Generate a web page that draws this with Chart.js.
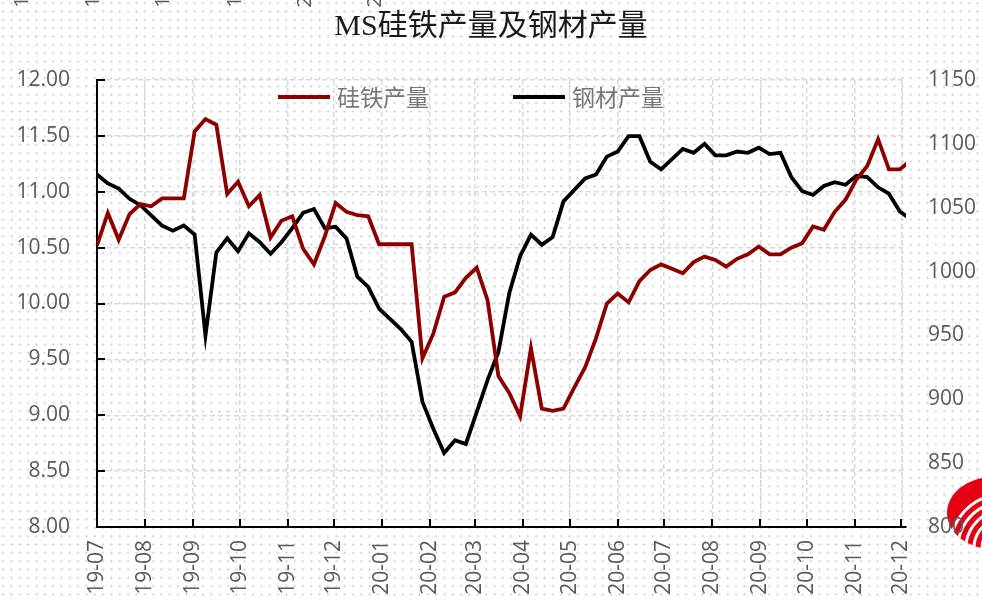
<!DOCTYPE html>
<html>
<head>
<meta charset="utf-8">
<script src="https://cdn.jsdelivr.net/npm/chart.js@4/dist/chart.umd.min.js"></script>
<style>
  body { margin: 0; background: #fff; }
  #wrap {
    width: 982px; height: 600px; background-color: #fff;
    background-image: radial-gradient(circle, #d2d2d2 0.9px, rgba(255,255,255,0) 1.1px);
    background-size: 8.33px 8.33px; background-position: -1px -1px;
  }
</style>
</head>
<body>
<div id="wrap"><canvas id="chart" width="982" height="600"></canvas></div>
<script>
// Month tick labels (yy-mm)
const monthLabels = ["19-07","19-08","19-09","19-10","19-11","19-12","20-01","20-02","20-03",
  "20-04","20-05","20-06","20-07","20-08","20-09","20-10","20-11","20-12"];

// Weekly series, first week starting 2019-07-01
const siliconOutput = [
  10.52,10.81,10.57,10.80,10.89,10.87,10.94,10.94,10.94,11.54,
  11.65,11.60,10.98,11.09,10.87,10.97,10.59,10.74,10.78,10.49,
  10.35,10.60,10.90,10.82,10.79,10.78,10.53,10.53,10.53,10.53,
  9.51,9.73,10.06,10.10,10.23,10.32,10.03,9.35,9.20,8.99,
  9.60,9.06,9.04,9.06,9.25,9.43,9.69,10.00,10.09,10.01,
  10.20,10.30,10.35,10.31,10.27,10.37,10.42,10.39,10.33,10.40,
  10.44,10.51,10.44,10.44,10.50,10.54,10.69,10.66,10.82,10.93,
  11.11,11.23,11.47,11.20,11.20,11.28];
const steelOutput = [
  1076,1069,1065,1057,1052,1044,1036,1032,1036,1029,
  950,1015,1026,1016,1030,1023,1014,1023,1034,1046,
  1049,1034,1035,1026,996,988,971,963,955,945,
  898,877,858,868,865,890,915,937,983,1012,
  1029,1021,1027,1055,1064,1073,1076,1090,1094,1106,
  1106,1086,1080,1088,1096,1093,1100,1091,1091,1094,
  1093,1097,1092,1093,1074,1063,1060,1067,1070,1068,
  1075,1074,1066,1061,1047,1041];

const seriesNames = ["硅铁产量", "钢材产量"];
const seriesColors = ["#8c0000", "#000000"];

// day offsets
const startDate = Date.UTC(2019, 6, 1);
const dayMs = 86400000;
function dayOf(label) {
  const [yy, mm] = label.split("-").map(Number);
  return (Date.UTC(2000 + yy, mm - 1, 1) - startDate) / dayMs;
}
const monthDays = monthLabels.map(dayOf);
const weekDays = siliconOutput.map((v, i) => i * 7);
const axisEndDay = monthDays[monthDays.length - 1] + 3;

const tickFont = { family: "'Open Sans', 'Noto Sans'", size: 21 };
const tickColor = "#595959";

// inward tick marks, legend inside plot, logo, ghost digits
const decorations = {
  id: "decorations",
  beforeDraw(chart) {
    const ctx = chart.ctx;
    ctx.save();
    ctx.beginPath();
    ctx.ellipse(993, 513, 46, 36, 0, 0, Math.PI * 2);
    ctx.clip();
    ctx.fillStyle = "#e60012";
    ctx.fillRect(940, 470, 50, 90);
    ctx.strokeStyle = "#fff";
    ctx.lineWidth = 3;
    [14, 22, 30, 38, 46, 54].forEach(r => {
      ctx.beginPath();
      ctx.arc(1004, 548, r, Math.PI * 0.95, Math.PI * 1.55);
      ctx.stroke();
    });
    ctx.restore();

    ctx.save();
    ctx.fillStyle = tickColor;
    ctx.font = "20px 'Open Sans'";
    ctx.textAlign = "center";
    ctx.textBaseline = "middle";
    [["1", 22], ["1", 93], ["1", 163], ["1", 235], ["2", 305], ["2", 375]].forEach(([t, x]) => {
      ctx.save();
      ctx.translate(x, 2);
      ctx.rotate(-Math.PI / 2);
      ctx.fillText(t, 0, 0);
      ctx.restore();
    });
    ctx.restore();
  },
  afterDraw(chart) {
    const ctx = chart.ctx;
    const xs = chart.scales.x, ys = chart.scales.y;
    const area = chart.chartArea;
    ctx.save();
    ctx.strokeStyle = "#000";
    ctx.lineWidth = 2;
    xs.ticks.forEach(t => {
      const px = Math.round(xs.getPixelForValue(t.value));
      ctx.beginPath();
      ctx.moveTo(px, area.bottom);
      ctx.lineTo(px, area.bottom - 8);
      ctx.stroke();
    });
    ys.ticks.forEach(t => {
      const py = Math.round(ys.getPixelForValue(t.value));
      ctx.beginPath();
      ctx.moveTo(area.left, py);
      ctx.lineTo(area.left + 8, py);
      ctx.stroke();
    });

    // legend
    const legendX = [278, 513];
    const legendY = area.top + 17;
    ctx.font = "23px 'Noto Sans CJK SC'";
    ctx.textBaseline = "middle";
    ctx.textAlign = "left";
    seriesNames.forEach((name, i) => {
      ctx.strokeStyle = seriesColors[i];
      ctx.lineWidth = 4;
      ctx.beginPath();
      ctx.moveTo(legendX[i], legendY);
      ctx.lineTo(legendX[i] + 52, legendY);
      ctx.stroke();
      ctx.fillStyle = "#767676";
      ctx.fillText(name, legendX[i] + 59, legendY);
    });
    ctx.restore();
  }
};

const ctx = document.getElementById("chart").getContext("2d");
new Chart(ctx, {
  type: "line",
  data: {
    datasets: [
      {
        label: seriesNames[0],
        data: weekDays.map((d, i) => ({ x: d, y: siliconOutput[i] })),
        borderColor: seriesColors[0],
        borderWidth: 3.8,
        pointRadius: 0,
        tension: 0,
        yAxisID: "y"
      },
      {
        label: seriesNames[1],
        data: weekDays.map((d, i) => ({ x: d, y: steelOutput[i] })),
        borderColor: seriesColors[1],
        borderWidth: 3.8,
        pointRadius: 0,
        tension: 0,
        yAxisID: "y1"
      }
    ]
  },
  options: {
    responsive: false,
    animation: false,
    layout: { padding: 0 },
    plugins: {
      legend: { display: false },
      tooltip: { enabled: false },
      title: {
        display: true,
        text: "MS硅铁产量及钢材产量",
        color: "#1a1a1a",
        font: { family: "'Liberation Serif', 'Noto Sans CJK SC'", size: 30, weight: "normal" },
        padding: { top: 9, bottom: 35 }
      }
    },
    scales: {
      x: {
        type: "linear",
        min: 0,
        max: axisEndDay,
        afterBuildTicks: s => { s.ticks = monthDays.map(v => ({ value: v })); },
        afterFit: s => { s.height = 73; },
        ticks: {
          autoSkip: false,
          minRotation: 90,
          maxRotation: 90,
          padding: 13,
          color: tickColor,
          font: tickFont,
          callback: (v, i) => monthLabels[i]
        },
        grid: { color: "#d9d9d9", lineWidth: 1.5, drawTicks: false },
        border: { display: true, color: "#000", width: 2, dash: [5, 3] }
      },
      y: {
        position: "left",
        min: 8,
        max: 12,
        afterFit: s => { s.width = 97; },
        ticks: {
          stepSize: 0.5,
          padding: 27,
          color: tickColor,
          font: tickFont,
          callback: v => v.toFixed(2)
        },
        grid: { color: "#d9d9d9", lineWidth: 1.5, drawTicks: false },
        border: { display: true, color: "#000", width: 2, dash: [5, 3] }
      },
      y1: {
        position: "right",
        min: 800,
        max: 1150,
        afterFit: s => { s.width = 76; },
        ticks: {
          stepSize: 50,
          padding: 22,
          color: tickColor,
          font: tickFont,
          callback: v => String(v)
        },
        grid: { display: false, drawTicks: false },
        border: { display: false }
      }
    }
  },
  plugins: [decorations]
});
</script>
</body>
</html>
